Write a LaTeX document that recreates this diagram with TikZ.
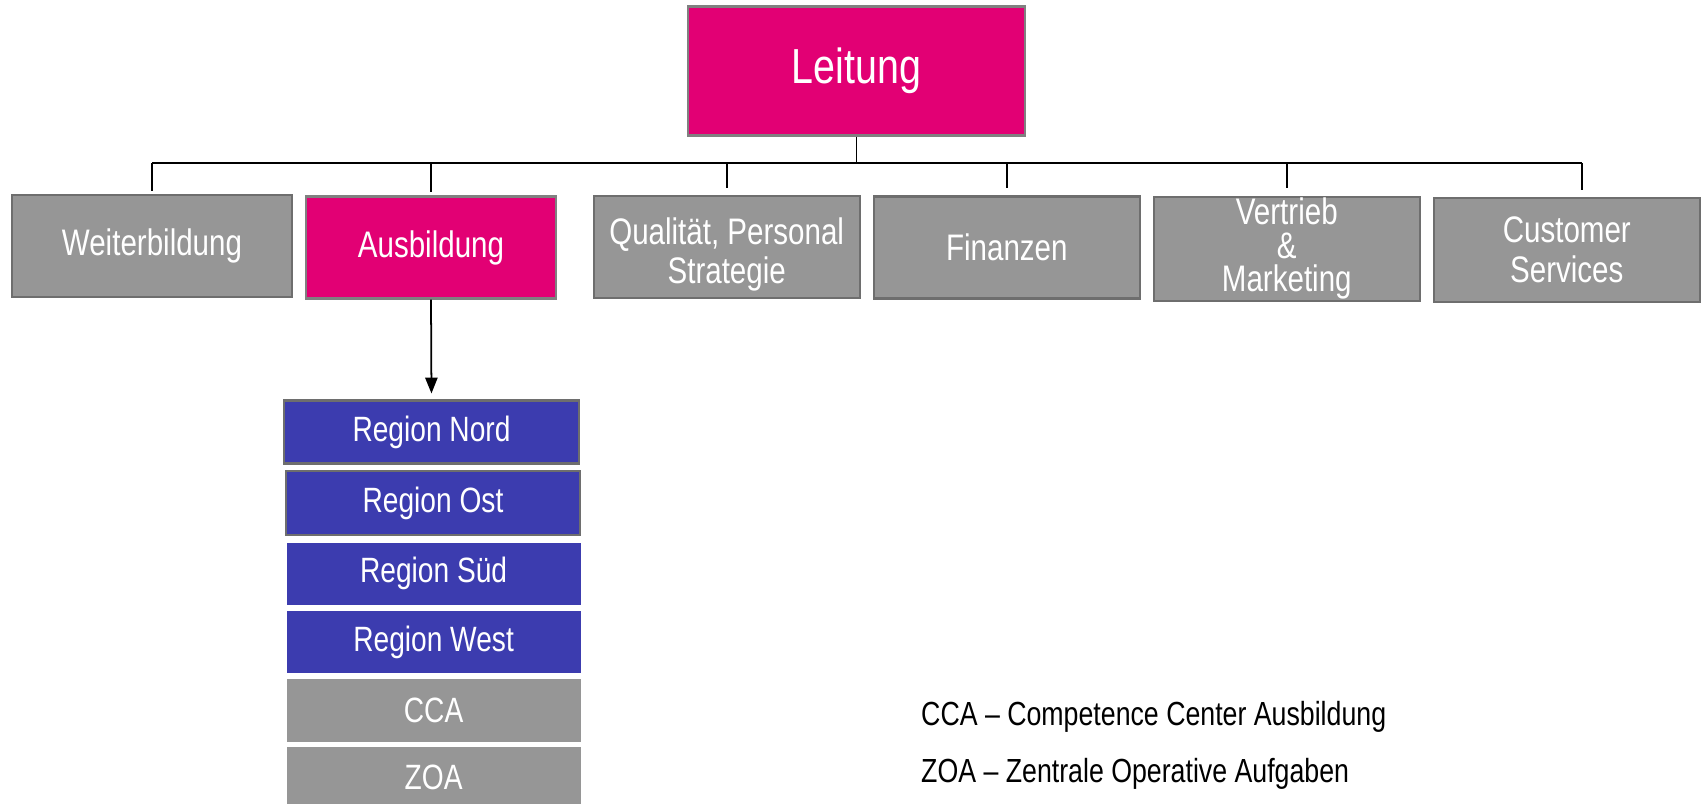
\documentclass[tikz,border=0pt]{standalone}
\usepackage{fontspec}
\setmainfont{Liberation Sans}[FakeStretch=0.8]
\usepackage{tikz}
\usetikzlibrary{arrows.meta}
\usetikzlibrary{positioning}

\definecolor{tmagenta}{HTML}{E20074}
\definecolor{tblue}{HTML}{3C3CAF}
\definecolor{tgray}{HTML}{969696}
\definecolor{tborder}{HTML}{6E6E6E}

\tikzset{
  unit/.style={draw=tborder, line width=0.6pt, fill=tgray, text=white,
    align=center, inner sep=0pt, minimum width=2.66cm, minimum height=1.02cm,
    font=\fontsize{10.5}{11}\selectfont},
  region/.style={fill=tblue, text=white, inner sep=0pt,
    minimum width=2.94cm, minimum height=0.62cm,
    font=\fontsize{10}{12}\selectfont},
  legend/.style={anchor=west, inner sep=0pt, font=\fontsize{9.5}{11}\selectfont},
  branch/.style={line width=0.5pt}
}

\begin{document}
\begin{tikzpicture}[x=0.01cm, y=-0.01cm]
  \useasboundingbox (0,0) rectangle (1702,804);

  % top level
  \node[unit, fill=tmagenta, draw=gray, minimum width=3.37cm, minimum height=1.29cm,
    font=\fontsize{14}{16}\selectfont] (lead) at (856.5,71) {Leitung};

  % second row
  \node[unit, minimum width=2.80cm] (weiter) at (152,246.4) {Weiterbildung};
  \node[unit, fill=tmagenta, draw=gray, minimum width=2.50cm] (aus) at (431,247.5) {Ausbildung};
  \node[unit] (qual) at (726.7,247) {\rule{0pt}{12pt}Qualität, Personal\\Strategie};
  \node[unit] (fin) at (1006.8,247.5) {Finanzen};
  \node[unit, minimum height=1.04cm, font=\fontsize{10.5}{9.6}\selectfont] (vert) at (1286.8,248.6) {Vertrieb\\\&\\Marketing};
  \node[unit, minimum height=1.04cm, font=\fontsize{10.5}{11.5}\selectfont] (cust) at (1566.8,249.7) {Customer\\Services};

  % branches
  \coordinate (bar) at (0,162.8);
  \draw[line width=0.6pt] (weiter.north |- bar) -- ([xshift=0.15cm]cust.north |- bar);
  \draw[branch] (lead.south) -- (lead.south |- bar);
  \draw[branch, shorten >=1pt] (weiter.north |- bar) -- (weiter.north);
  \draw[branch, shorten >=1pt] (aus.north |- bar) -- (aus.north);
  \draw[branch, shorten >=2pt] (qual.north |- bar) -- (qual.north);
  \draw[branch, shorten >=2pt] (fin.north |- bar) -- (fin.north);
  \draw[branch, shorten >=2pt] (vert.north |- bar) -- (vert.north);
  \draw[branch, shorten >=2pt] ([xshift=0.15cm]cust.north |- bar) -- ([xshift=0.15cm]cust.north);

  % Ausbildung units
  \node[region, draw=tborder, line width=0.6pt, minimum height=0.63cm] (nord) at (431.5,432) {Region Nord};
  \node[region, draw=tborder, line width=0.6pt, minimum height=0.64cm] (ost) at (433,503) {Region Ost};
  \node[region] (sued) at (433.6,573.7) {Region Süd};
  \node[region] (west) at (433.6,642) {Region West};
  \node[region, fill=tgray] (cca) at (433.6,710.5) {CCA};
  \node[region, fill=tgray] (zoa) at (433.6,777.8) {ZOA};

  \draw[branch, -{Triangle[width=3.5pt,length=4.5pt]}, shorten >=0.06cm] (aus.south) -- (nord.north);

  % legend
  \node[legend] (lcca) at (920.5,716.4) {CCA – Competence Center Ausbildung};
  \node[legend] (lzoa) at (920.5,774) {ZOA – Zentrale Operative Aufgaben};
\end{tikzpicture}
\end{document}
